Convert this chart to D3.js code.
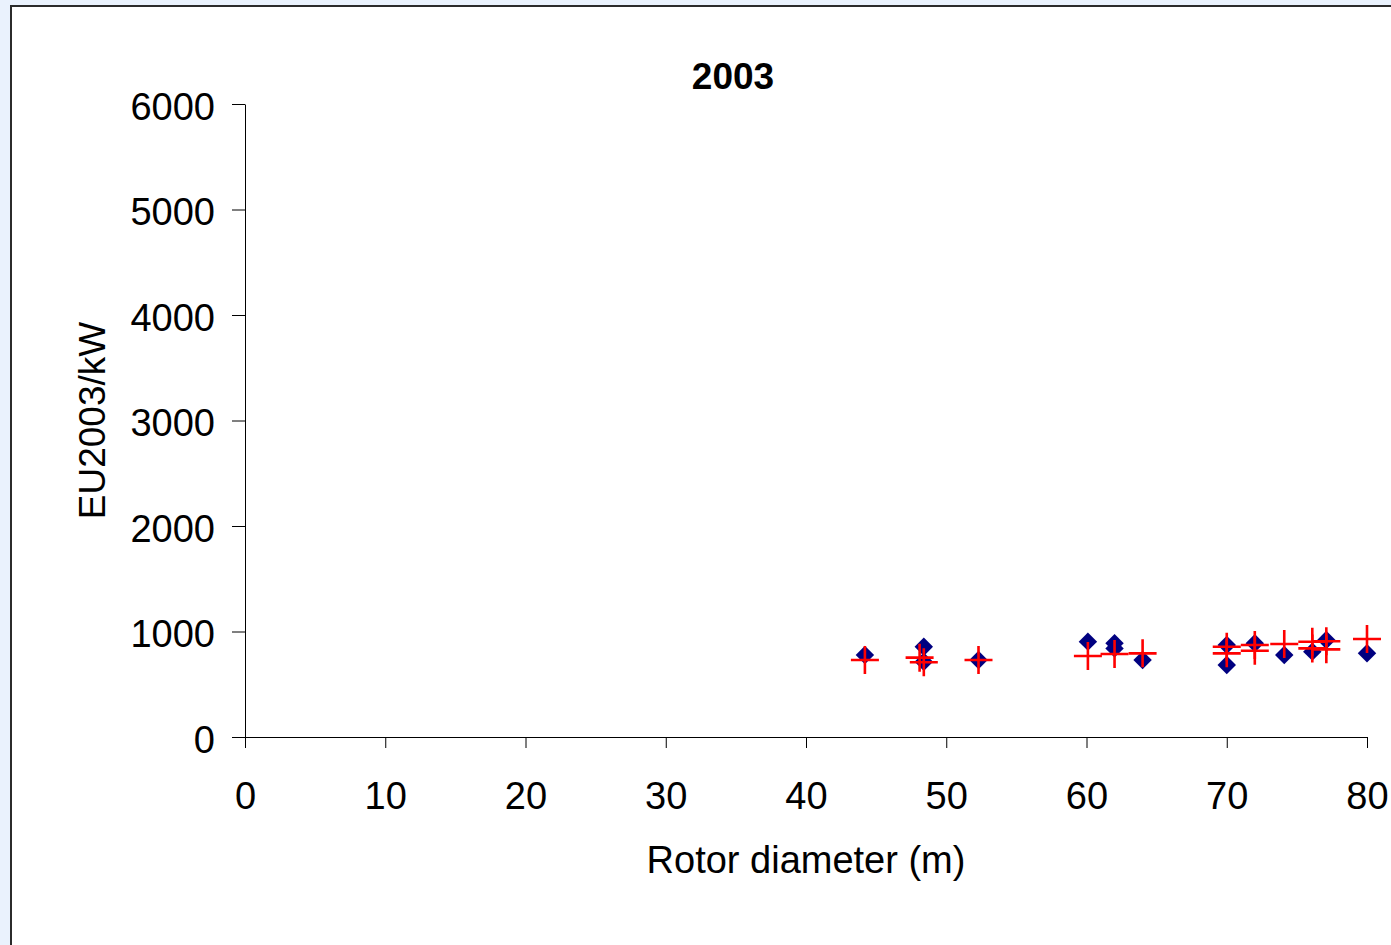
<!DOCTYPE html>
<html>
<head>
<meta charset="utf-8">
<script src="https://cdn.jsdelivr.net/npm/d3@7"></script>
<style>
  html, body { margin: 0; padding: 0; background: #eaf2fd; overflow: hidden; }
  svg { display: block; }
  text { font-family: "Liberation Sans", Arial, sans-serif; fill: #000; }
</style>
</head>
<body>
<div id="chart"></div>
<script>
// Observed turbines (diamonds)
const obsDiameter = [44.2, 48.4, 48.4, 52.3, 60.1, 62, 62, 64, 70, 70, 72, 74.1, 76.1, 77.1, 80];
const obsCost     = [777, 856, 713, 730, 904, 888, 840, 730, 872, 682, 888, 777, 809, 919, 793];

// Estimated values (crosses)
const estDiameter = [44.2, 48.1, 48.4, 52.3, 60.1, 62, 64, 70, 70, 72, 72, 74.1, 76.1, 76.1, 77.1, 77.1, 80];
const estCost     = [730, 752, 708, 730, 768, 787, 793, 856, 793, 872, 818, 881, 903, 840, 907, 831, 929];

const xTicks = [0, 10, 20, 30, 40, 50, 60, 70, 80];
const yTicks = [0, 1000, 2000, 3000, 4000, 5000, 6000];

const chartTitle = "2003";
const xTitle = "Rotor diameter (m)";
const yTitle = "EU2003/kW";

function drawChart(elementId) {
  const width = 1391, height = 945;
  const plot = {left: 245, right: 1367, top: 104, bottom: 737};

  const svg = d3.select(elementId).append('svg')
      .attr('width', width)
      .attr('height', height);

  // white chart area with frame on top/left
  svg.append('rect')
      .attr('x', 11).attr('y', 6)
      .attr('width', width).attr('height', height)
      .attr('fill', '#fff');
  svg.append('path')
      .attr('d', `M11,${height} L11,6 L${width},6`)
      .attr('fill', 'none')
      .attr('stroke', '#2b2b2b')
      .attr('stroke-width', 2);

  const xscale = d3.scaleLinear().domain([0, 80]).range([plot.left, plot.right]);
  const yscale = d3.scaleLinear().domain([0, 6000]).range([plot.bottom, plot.top]);

  const xaxis = d3.axisBottom(xscale).tickValues(xTicks).tickFormat(d3.format('d'))
      .tickSizeInner(11).tickSizeOuter(0).tickPadding(34);
  const yaxis = d3.axisLeft(yscale).tickValues(yTicks).tickFormat(d3.format('d'))
      .tickSizeInner(13).tickSizeOuter(0).tickPadding(17);

  const g_xaxis = svg.append('g').attr('transform', `translate(0, ${plot.bottom})`).call(xaxis);
  const g_yaxis = svg.append('g').attr('transform', `translate(${plot.left}, 0)`).call(yaxis);

  [g_xaxis, g_yaxis].forEach(g => {
    g.select('.domain').attr('stroke', '#000').attr('stroke-width', 1);
    g.selectAll('.tick line').attr('stroke', '#000').attr('stroke-width', 1);
    g.selectAll('.tick text')
      .attr('font-size', 38)
      .attr('font-family', '"Liberation Sans", Arial, sans-serif')
      .attr('fill', '#000');
  });
  g_yaxis.selectAll('.tick text').attr('dy', '0.40em');

  // titles
  svg.append('text')
      .attr('x', 733).attr('y', 89)
      .attr('text-anchor', 'middle')
      .attr('font-size', 37)
      .attr('font-weight', 'bold')
      .text(chartTitle);

  svg.append('text')
      .attr('x', (plot.left + plot.right) / 2).attr('y', 873)
      .attr('text-anchor', 'middle')
      .attr('font-size', 38)
      .text(xTitle);

  svg.append('text')
      .attr('transform', `translate(105, ${(plot.top + plot.bottom) / 2}) rotate(-90)`)
      .attr('text-anchor', 'middle')
      .attr('font-size', 37)
      .text(yTitle);

  const obs = obsDiameter.map((d, i) => ({x: d, y: obsCost[i]}));
  const est = estDiameter.map((d, i) => ({x: d, y: estCost[i]}));

  const diamond = d3.symbol().type(d3.symbolSquare).size(170);

  svg.append('g').selectAll('path').data(obs).enter().append('path')
      .attr('d', diamond)
      .attr('transform', d => `translate(${xscale(d.x)}, ${yscale(d.y)}) rotate(45)`)
      .attr('fill', '#000080');

  const arm = 14;
  svg.append('g').selectAll('path').data(est).enter().append('path')
      .attr('d', d => {
        const cx = xscale(d.x), cy = yscale(d.y);
        return `M${cx - arm},${cy}H${cx + arm}M${cx},${cy - arm}V${cy + arm}`;
      })
      .attr('fill', 'none')
      .attr('stroke', '#ff0000')
      .attr('stroke-width', 2.6);
}

drawChart('#chart');
</script>
</body>
</html>
